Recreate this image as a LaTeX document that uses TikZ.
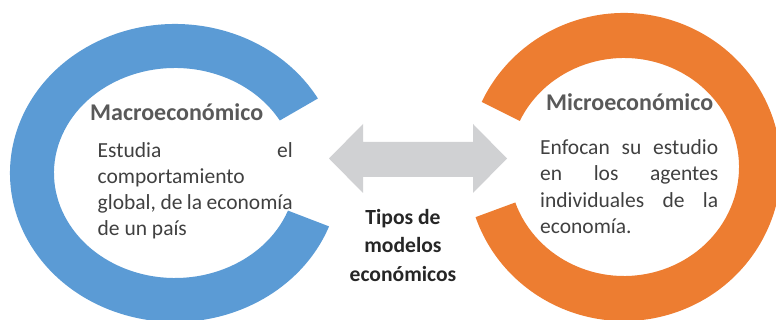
\documentclass[tikz,border=0pt]{standalone}
\usepackage{fontspec}
\setmainfont{Carlito}
\usetikzlibrary{calc}
\definecolor{ringblue}{HTML}{5B9BD5}
\definecolor{ringorange}{HTML}{ED7D31}
\definecolor{arrowgray}{HTML}{D0D1D3}
\definecolor{titlegray}{HTML}{595959}
\definecolor{bodygray}{HTML}{404040}
\definecolor{centertext}{HTML}{262626}
\begin{document}
\begin{tikzpicture}[x=1pt,y=1pt,
  titletext/.style={inner sep=0pt, anchor=base west, text=titlegray, font=\fontsize{24}{28}\selectfont\bfseries},
  bodytext/.style={inner sep=0pt, anchor=base west, text=bodygray, font=\fontsize{21.5}{26.5}\selectfont},
  centerlabel/.style={inner sep=0pt, anchor=base, text=centertext, font=\fontsize{21.6}{28.5}\selectfont\bfseries}]
\useasboundingbox (0,0) rectangle (776,320);
\clip (0,0) rectangle (776,320);
% rings
\coordinate (lc) at (175,147);
\coordinate (rc) at (624,153);
\fill[ringblue] ($(lc)+(30:165pt and 149pt)$) arc[start angle=30,end angle=339,x radius=165pt,y radius=149pt]
  -- ($(lc)+(339:121pt and 105pt)$) arc[start angle=339,end angle=30,x radius=121pt,y radius=105pt] -- cycle;
\fill[ringorange] ($(rc)+(199:157pt and 154pt)$) arc[start angle=199,end angle=515,x radius=157pt,y radius=154pt]
  -- ($(rc)+(515:115pt and 109pt)$) arc[start angle=515,end angle=199,x radius=115pt,y radius=109pt] -- cycle;
% double arrow
\fill[arrowgray] (329,161.5) -- (363,196) -- (363,178) -- (473,178) -- (473,196) -- (507,161.5)
  -- (473,127) -- (473,143) -- (363,143) -- (363,127) -- cycle;
% left texts
\node[titletext] (macro) at (90,199) {Macroeconómico};
\node[bodytext] (m1) at (97.5,162) {\makebox[195pt][s]{Estudia el}};
\node[bodytext] (m2) at (97.5,136) {comportamiento};
\node[bodytext] (m3) at (97.5,110) {\makebox[195pt][s]{global, de la economía}};
\node[bodytext] (m4) at (97.5,84) {de un país};
% right texts
\node[titletext] (micro) at (546,209) {Microeconómico};
\node[bodytext] (r1) at (540,165.5) {\makebox[178pt][s]{Enfocan su estudio}};
\node[bodytext] (r2) at (540,139) {\makebox[178pt][s]{en los agentes}};
\node[bodytext] (r3) at (540,112.5) {\makebox[178pt][s]{individuales de la}};
\node[bodytext] (r4) at (540,86) {economía.};
% center label
\node[centerlabel] (c1) at (403,95) {Tipos de};
\node[centerlabel] (c2) at (403,67) {modelos};
\node[centerlabel] (c3) at (403,38) {económicos};
\end{tikzpicture}
\end{document}
